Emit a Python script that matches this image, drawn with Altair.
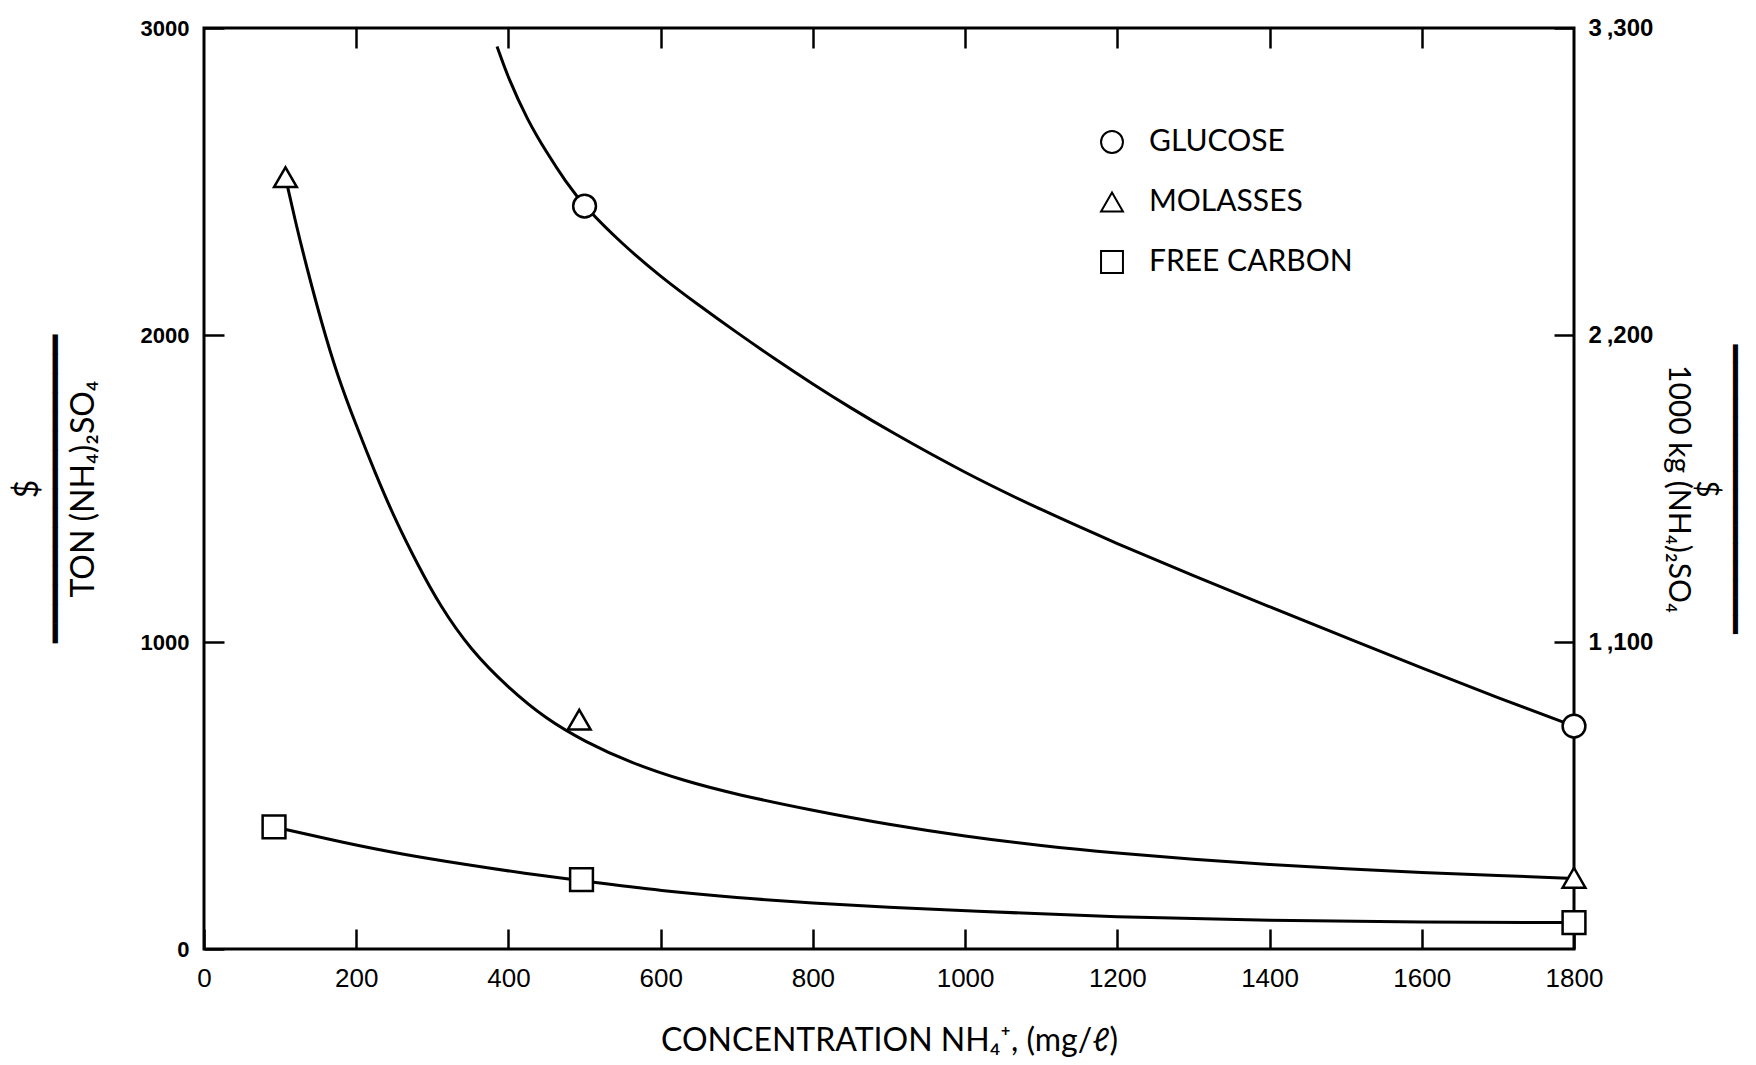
import altair as alt
import pandas as pd

series_names = ["GLUCOSE", "MOLASSES", "FREE CARBON"]
series_shapes = ["circle", "triangle-up", "square"]

# curve readings (x: NH4+ mg/l, y: $/ton)
glucose_curve_x = [385, 400, 425, 450, 475, 500, 550, 600, 650, 700, 750, 800, 850, 900,
                   1000, 1100, 1200, 1300, 1400, 1500, 1600, 1700, 1800]
glucose_curve_y = [2940, 2835, 2700, 2595, 2500, 2418, 2295, 2190, 2097, 2008, 1922, 1840, 1762, 1688,
                   1550, 1430, 1320, 1215, 1115, 1015, 915, 818, 726]

molasses_curve_x = [107, 120, 135, 155, 175, 200, 225, 250, 280, 310, 350, 400, 450, 500, 560,
                    630, 700, 800, 900, 1000, 1100, 1200, 1300, 1400, 1500, 1600, 1700, 1800]
molasses_curve_y = [2514, 2370, 2220, 2035, 1870, 1705, 1550, 1405, 1255, 1118, 975, 850, 748, 676, 607,
                    548, 503, 451, 405, 367, 336, 312, 292, 275, 261, 249, 239, 230]

carbon_curve_x = [92, 184, 259, 344, 419, 509, 600, 700, 800, 900, 1000, 1200, 1400, 1600, 1800]
carbon_curve_y = [398, 346, 309, 275, 247, 218, 190, 167, 149, 136, 124, 104, 92, 88, 86]

# plotted data points (markers)
glucose_pts_x = [500, 1800]
glucose_pts_y = [2420, 726]
molasses_pts_x = [107, 493, 1800]
molasses_pts_y = [2514, 747, 232]
carbon_pts_x = [92, 496, 1800]
carbon_pts_y = [398, 226, 86]

x_ticks = [0, 200, 400, 600, 800, 1000, 1200, 1400, 1600, 1800]
x_top_ticks = [200, 400, 600, 800, 1000, 1200, 1400, 1600]
y_ticks = [0, 1000, 2000, 3000]
y_right_ticks = [1000, 2000, 3000]

x_title = "CONCENTRATION NH\u2084\u207a, (mg/\u2113)"
bar = "\u2501" * 16
y_left_title = ["$", bar, "TON (NH\u2084)\u2082SO\u2084"]
y_right_title = [bar, "$", "1000 kg (NH\u2084)\u2082SO\u2084"]

curves = pd.concat([
    pd.DataFrame({"x": glucose_curve_x, "y": glucose_curve_y, "series": series_names[0]}),
    pd.DataFrame({"x": molasses_curve_x, "y": molasses_curve_y, "series": series_names[1]}),
    pd.DataFrame({"x": carbon_curve_x, "y": carbon_curve_y, "series": series_names[2]}),
], ignore_index=True)

points = pd.concat([
    pd.DataFrame({"x": glucose_pts_x, "y": glucose_pts_y, "series": series_names[0]}),
    pd.DataFrame({"x": molasses_pts_x, "y": molasses_pts_y, "series": series_names[1]}),
    pd.DataFrame({"x": carbon_pts_x, "y": carbon_pts_y, "series": series_names[2]}),
], ignore_index=True)

x_scale = alt.Scale(domain=[0, 1800], nice=False, zero=False)
y_scale = alt.Scale(domain=[0, 3000], nice=False)
shape_scale = alt.Scale(domain=series_names, range=series_shapes)

TITLE_FONT = "Lato, DejaVu Sans"
TICK_FONT = "Liberation Sans"
XTICK_FONT = "Liberation Sans Narrow, Liberation Sans"

axis_common = dict(domain=False, grid=False, tickColor="black", tickWidth=2.5,
                   labelColor="black", titleColor="black", tickSize=20, offset=-20)

lines = alt.Chart(curves).mark_line(color="black", strokeWidth=3, interpolate="basis").encode(
    x=alt.X("x:Q", scale=x_scale, axis=alt.Axis(
        orient="bottom", values=x_ticks, format="d", labelPadding=16, labelFont=XTICK_FONT,
        labelFontSize=26, labelFlush=False, title=x_title, titleFont=TITLE_FONT,
        titleFontSize=32, titleFontWeight="normal", titlePadding=34, **axis_common)),
    y=alt.Y("y:Q", scale=y_scale, axis=alt.Axis(
        orient="left", values=y_ticks, format="d", labelPadding=15, labelFont=TICK_FONT,
        labelFontSize=22, labelFontWeight="bold", title=y_left_title, titleFont=TITLE_FONT,
        titleFontSize=32, titleFontWeight="normal", titleLineHeight=28, titlePadding=40,
        **axis_common)),
    detail="series:N",
    order="x:Q",
)

# white discs under the hollow markers so the curves stop at the marker outline
marker_bg = alt.Chart(points).mark_point(filled=True, color="white", size=520, opacity=1).encode(
    x=alt.X("x:Q", scale=x_scale, axis=None),
    y=alt.Y("y:Q", scale=y_scale, axis=None),
    shape=alt.Shape("series:N", scale=shape_scale, legend=None),
)

markers = alt.Chart(points).mark_point(filled=False, color="black",
                                       strokeWidth=2.5, size=520, opacity=1).encode(
    x=alt.X("x:Q", scale=x_scale, axis=alt.Axis(
        orient="top", values=x_top_ticks, labels=False, title=None, **axis_common)),
    y=alt.Y("y:Q", scale=y_scale, axis=alt.Axis(
        orient="right", values=y_right_ticks,
        labelExpr="replace(format(round(datum.value * 1.1), ','), ',', '\u2009,')",
        labelPadding=14, labelFont=TICK_FONT, labelFontSize=24, labelFontWeight="bold",
        title=y_right_title, titleFont=TITLE_FONT, titleFontSize=30, titleFontWeight="normal",
        titleLineHeight=28, titlePadding=10, **axis_common)),
    shape=alt.Shape("series:N", scale=shape_scale,
                    legend=alt.Legend(
                        title=None, orient="none", legendX=893, legendY=99,
                        symbolStrokeColor="black", symbolStrokeWidth=2, symbolSize=480,
                        labelFont=TITLE_FONT, labelFontSize=30, labelColor="black",
                        labelOffset=22, labelLimit=500, rowPadding=30, padding=0)),
)

chart = alt.layer(lines, marker_bg, markers).resolve_axis(
    x="independent", y="independent"
).resolve_legend(shape="independent").properties(
    width=1370, height=921,
    autosize=alt.AutoSizeParams(type="none"),
    padding={"left": 204, "top": 28, "right": 182, "bottom": 116},
    background="white",
).configure_view(stroke="black", strokeWidth=3)

chart.save("out.html", embed_options={"renderer": "svg", "actions": False})
